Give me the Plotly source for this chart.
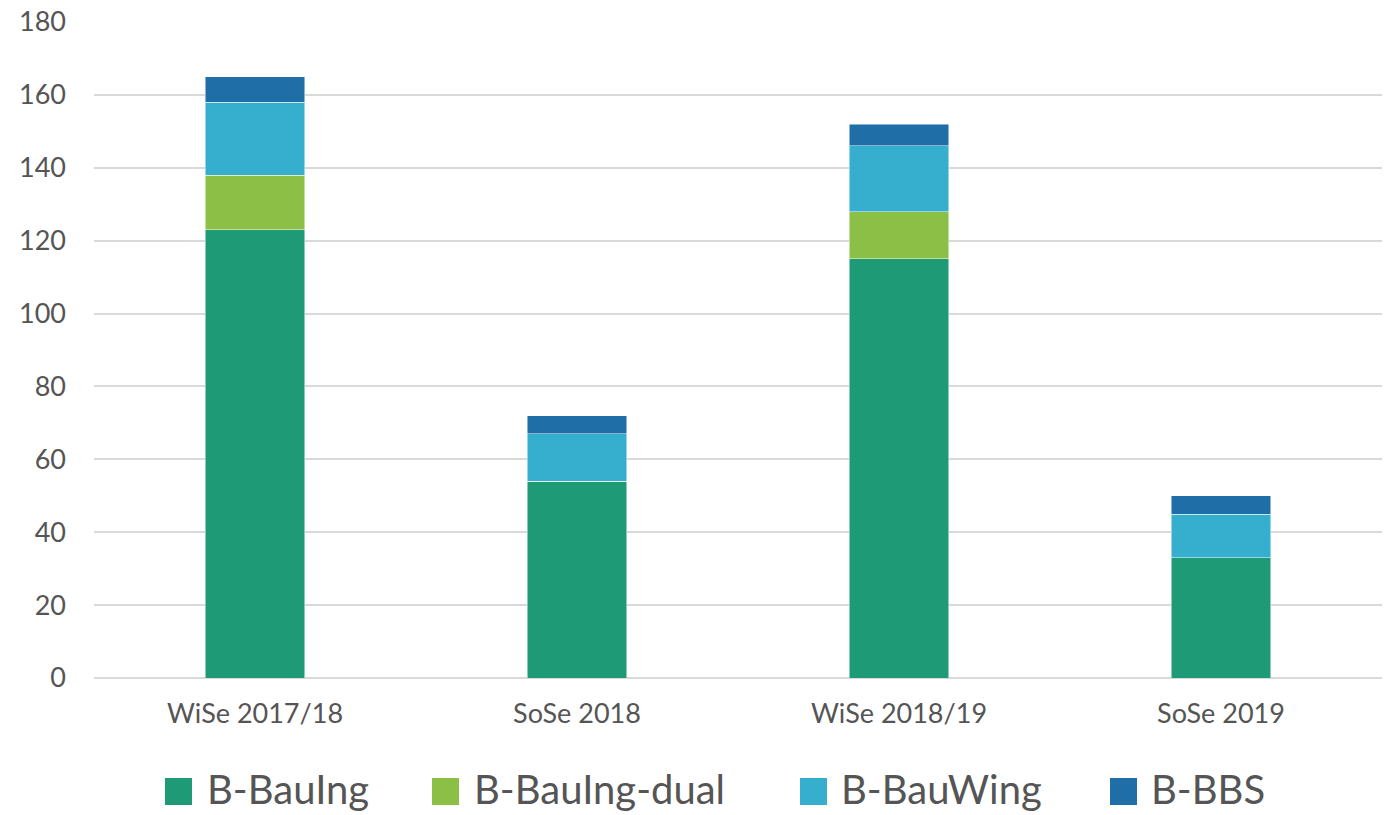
import plotly.graph_objects as go

semesters = ["WiSe 2017/18", "SoSe 2018", "WiSe 2018/19", "SoSe 2019"]
programmes = ["B-BauIng", "B-BauIng-dual", "B-BauWing", "B-BBS"]
bauing = [123, 54, 115, 33]
bauing_dual = [15, 0, 13, 0]
bauwing = [20, 13, 18, 12]
bbs = [7, 5, 6, 5]
colors = ["#1F9A77", "#8CBF45", "#36AECE", "#1F6EA8"]
y_ticks = [0, 20, 40, 60, 80, 100, 120, 140, 160, 180]

FONT = "Lato"
GREY = "#555555"

fig = go.Figure()
for name, vals, col in zip(programmes, [bauing, bauing_dual, bauwing, bbs], colors):
    fig.add_trace(go.Bar(
        x=semesters, y=vals, name=name,
        marker=dict(color=col, line=dict(color="rgba(255,255,255,0.6)", width=0.8)),
        showlegend=False,
    ))

# plot area in pixels, used to place the custom legend
L, R, T, B = 94, 1382, 22, 678
W, H = R - L, B - T

def px_x(px):
    return (px - L) / W

def px_y(py):
    return (B - py) / H

legend_items = [(165, 206), (432, 473), (800, 840), (1110, 1150)]
for (sq_x, tx_x), name, col in zip(legend_items, programmes, colors):
    fig.add_shape(type="rect", xref="paper", yref="paper",
                  x0=px_x(sq_x), x1=px_x(sq_x + 27),
                  y0=px_y(805), y1=px_y(778),
                  fillcolor=col, line=dict(width=0))
    fig.add_annotation(xref="paper", yref="paper", x=px_x(tx_x), y=px_y(789),
                       text=name, showarrow=False, xanchor="left", yanchor="middle",
                       borderpad=0,
                       font=dict(family=FONT, size=40, color=GREY))

fig.update_layout(
    barmode="stack",
    bargap=0.69,
    width=1384, height=815,
    margin=dict(l=L, r=1384 - R, t=T, b=815 - B),
    plot_bgcolor="white", paper_bgcolor="white",
    font=dict(family=FONT, color=GREY),
    xaxis=dict(
        tickfont=dict(size=27, color=GREY),
        showgrid=False, ticks="", showline=False,
        ticklabelstandoff=17,
    ),
    yaxis=dict(
        range=[0, 180], tickvals=y_ticks,
        tickfont=dict(size=27, color=GREY),
        showgrid=True, gridcolor="#D9D9D9", gridwidth=2,
        zeroline=True, zerolinecolor="#D9D9D9", zerolinewidth=2,
        ticks="", showline=False,
        ticklabelstandoff=27,
    ),
)

fig.write_html("out.html")
